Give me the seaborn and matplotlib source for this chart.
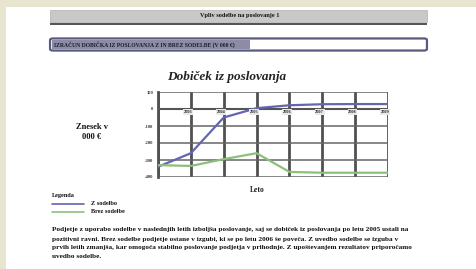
import matplotlib
matplotlib.use("Agg")
import matplotlib.pyplot as plt
import seaborn as sns
import pandas as pd
from matplotlib.patches import Rectangle, FancyBboxPatch
from matplotlib.lines import Line2D

years = [2002, 2003, 2004, 2005, 2006, 2007, 2008, 2009]
z_sodelbo = [-340, -260, -50, 5, 22, 28, 29, 29]
brez_sodelbe = [-330, -335, -295, -260, -370, -375, -375, -375]
series_names = ["Z sodelbo", "Brez sodelbe"]
y_ticks = [100, 0, -100, -200, -300, -400]
x_tick_labels = ["", "2003", "2004", "2005", "2006", "2007", "2008", "2009"]

W, H = 476, 269
sns.set_theme(style="white")
plt.rcParams['font.family'] = ['Liberation Serif', 'DejaVu Serif']

fig = plt.figure(figsize=(W / 100, H / 100), dpi=100)
fig.patch.set_facecolor("#e7e4d0")

def fx(x):
    return x / W

def fy(y):
    return 1 - y / H

# white page
fig.patches.append(Rectangle((fx(6), 0), 1 - fx(6), fy(7), transform=fig.transFigure,
                             facecolor="white", edgecolor="none", zorder=-10))
# title bar
fig.patches.append(Rectangle((fx(50), fy(22)), fx(377), 12 / H, transform=fig.transFigure,
                             facecolor="#c8c8c8", edgecolor="#b0b0b0", lw=0.5, zorder=1))
fig.patches.append(Rectangle((fx(50), fy(24.5)), fx(377), 1.6 / H, transform=fig.transFigure,
                             facecolor="#555555", edgecolor="none", zorder=1))
fig.text(fx(240), fy(16), "Vpliv sodelbe na poslovanje 1", fontsize=4.5, fontweight="bold",
         ha="center", va="center", color="#111111")

# form box
fig.patches.append(FancyBboxPatch((fx(51), fy(50)), fx(375), 11 / H,
                                  boxstyle="round,pad=0.002,rounding_size=0.006",
                                  transform=fig.transFigure, facecolor="white",
                                  edgecolor="#5a5a80", lw=1.6, zorder=1))
fig.patches.append(Rectangle((fx(52), fy(49)), fx(198), 9 / H, transform=fig.transFigure,
                             facecolor="#8c8ca6", edgecolor="none", zorder=2))
fig.text(fx(54), fy(44.5), "IZRAČUN DOBIČKA IZ POSLOVANJA Z IN BREZ SODELBE (V 000 €)",
         fontsize=4.1, fontweight="bold", ha="left", va="center", color="#1a1a2a", zorder=3)

# chart axes
ax = fig.add_axes([fx(158), fy(177), fx(230), 85 / H])
ax.set_zorder(5)
df = pd.DataFrame({
    "Leto": years * 2,
    "Znesek": z_sodelbo + brez_sodelbe,
    "Serija": [series_names[0]] * len(years) + [series_names[1]] * len(years),
})
sns.lineplot(data=df, x="Leto", y="Znesek", hue="Serija",
             palette={series_names[0]: "#6464b4", series_names[1]: "#8cc07a"},
             linewidth=1.6, ax=ax, legend=False, zorder=5)
ax.set_xlim(years[0], years[-1])
ax.set_ylim(y_ticks[-1], y_ticks[0])
ax.set_xticks(years)
ax.set_yticks(y_ticks)
ax.set_xticklabels([])
ax.set_yticklabels([str(t) for t in y_ticks], fontsize=3.3, fontweight="bold")
ax.tick_params(axis="y", length=2, pad=1.5, colors="#333333", width=0.8)
ax.tick_params(axis="x", length=0)
for v in years:
    ax.axvline(v, color="#505050", lw=2.0, zorder=2)
for t in y_ticks:
    ax.axhline(t, color="#666666", lw=1.1, zorder=2)
ax.axhline(0, color="#555555", lw=1.5, zorder=3)
for s in ["top", "right", "bottom"]:
    ax.spines[s].set_visible(False)
ax.spines["left"].set_color("#505050")
ax.spines["left"].set_linewidth(2.0)
ax.set_xlabel("")
ax.set_ylabel("")
ax.set_facecolor("white")
for yr, lab in zip(years, x_tick_labels):
    if lab:
        ax.text(yr - 0.08, -6, lab, fontsize=3.2, fontweight="bold", ha="center", va="top",
                color="#222222", zorder=6,
                bbox=dict(boxstyle="square,pad=0.15", facecolor="#e8e8e8", edgecolor="none"))

# chart title and axis labels
fig.text(fx(227), fy(77), "Dobiček iz poslovanja", fontsize=9.5, fontweight="bold",
         fontstyle="italic", ha="center", va="center", color="#222222")
fig.text(fx(92), fy(132), "Znesek v\n000 €", fontsize=6, fontweight="bold",
         ha="center", va="center", color="#111111", linespacing=1.3)
fig.text(fx(257), fy(190), "Leto", fontsize=5.5, fontweight="bold",
         ha="center", va="center", color="#222222")

# legend
fig.text(fx(52), fy(195), "Legenda", fontsize=4.5, fontweight="bold",
         ha="left", va="center", color="#111111")
fig.lines.append(Line2D([fx(52), fx(84)], [fy(203.5), fy(203.5)], transform=fig.transFigure,
                        color="#6464b4", lw=1.2))
fig.lines.append(Line2D([fx(52), fx(84)], [fy(211.5), fy(211.5)], transform=fig.transFigure,
                        color="#8cc07a", lw=1.2))
fig.text(fx(91), fy(203.5), series_names[0], fontsize=4.5, fontweight="bold",
         ha="left", va="center", color="#111111")
fig.text(fx(91), fy(211.5), series_names[1], fontsize=4.5, fontweight="bold",
         ha="left", va="center", color="#111111")

# paragraph
para = [
    "Podjetje z uporabo sodelbe v naslednjih letih izboljša poslovanje, saj se dobiček iz poslovanja po letu 2005 ustali na",
    "pozitivni ravni. Brez sodelbe podjetje ostane v izgubi, ki se po letu 2006 še poveča. Z uvedbo sodelbe se izguba v",
    "prvih letih zmanjša, kar omogoča stabilno poslovanje podjetja v prihodnje. Z upoštevanjem rezultatov priporočamo",
    "uvedbo sodelbe.",
]
for i, line in enumerate(para):
    fig.text(fx(52), fy(230 + 9 * i), line, fontsize=5.2, fontweight="bold",
             ha="left", va="center", color="#111111")

fig.savefig("out.png", dpi=100, facecolor=fig.get_facecolor())
